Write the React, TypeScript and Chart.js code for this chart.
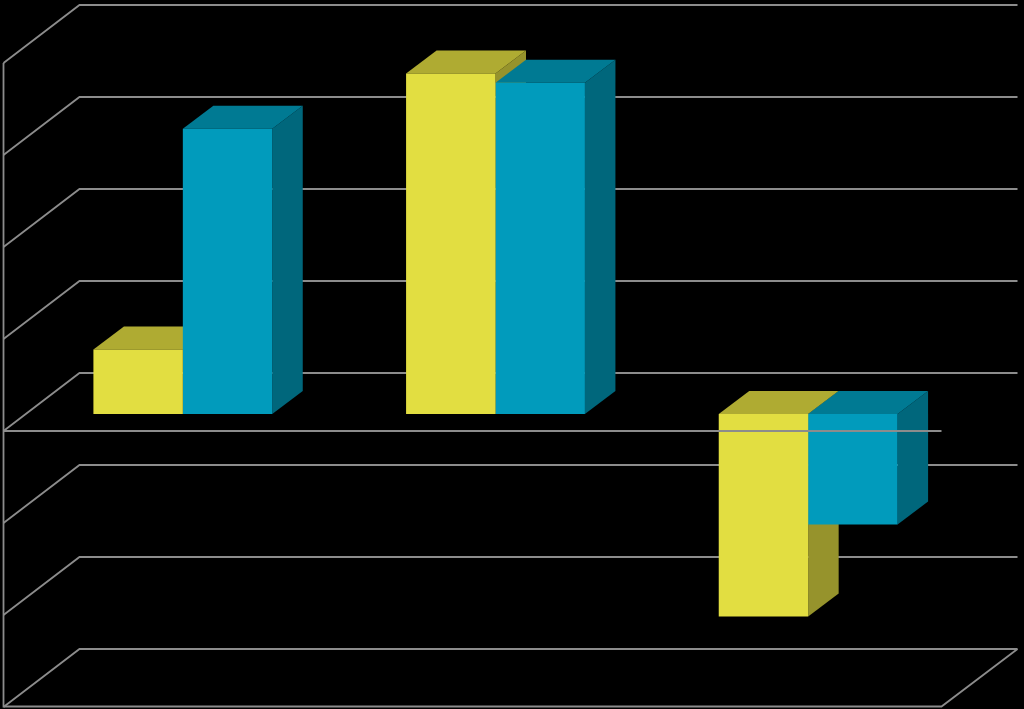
import React, { useEffect, useRef } from "react";
import { Chart, registerables } from "chart.js";

Chart.register(...registerables);

const categories = ["Category 1", "Category 2", "Category 3"];
const seriesYellow = [7, 37, -22];
const seriesBlue = [31, 36, -12];
const axisMin = -30;
const axisMax = 40;
const axisStep = 10;

const GRID = "#8c8c8c";
const GRID_WIDTH = 1.8;
const FRONT_DX = -23;
const FRONT_DY = 17;
const BACK_DX = 53;
const BACK_DY = -41;
const BAR_DX = 30.5;
const BAR_DY = -23;

const faces = [
  { front: "#E2DE41", top: "#AFAB32", side: "#96932C" },
  { front: "#019BBC", top: "#007A93", side: "#00677C" },
];

function poly(ctx: CanvasRenderingContext2D, pts: number[][], fill: string) {
  ctx.fillStyle = fill;
  ctx.beginPath();
  pts.forEach(([x, y], i) => (i ? ctx.lineTo(x, y) : ctx.moveTo(x, y)));
  ctx.closePath();
  ctx.fill();
}

function seg(ctx: CanvasRenderingContext2D, pts: number[][]) {
  ctx.beginPath();
  pts.forEach(([x, y], i) => (i ? ctx.lineTo(x, y) : ctx.moveTo(x, y)));
  ctx.stroke();
}

const plugin3d = {
  id: "box3d",
  beforeDatasetsDraw(chart: any) {
    const { ctx, chartArea, scales } = chart;
    const y = scales.y;
    const fl = chartArea.left + FRONT_DX;
    const bl = chartArea.left + BACK_DX;
    const br = chartArea.right + BACK_DX;
    const fr = chartArea.right + FRONT_DX;
    ctx.save();
    ctx.strokeStyle = GRID;
    ctx.lineWidth = GRID_WIDTH;
    y.ticks.forEach((t: any) => {
      const p = y.getPixelForValue(t.value);
      seg(ctx, [
        [fl, p + FRONT_DY],
        [bl, p + BACK_DY],
        [br, p + BACK_DY],
      ]);
    });
    const pMin = y.getPixelForValue(axisMin);
    const pMax = y.getPixelForValue(axisMax);
    seg(ctx, [
      [fl, pMax + FRONT_DY],
      [fl, pMin + FRONT_DY - 0.5],
      [fr, pMin + FRONT_DY - 0.5],
      [br, pMin + BACK_DY],
    ]);
    // extruded sides and tops of the bars, behind the front faces
    for (let c = 0; c < categories.length; c++) {
      chart.data.datasets.forEach((_: any, d: number) => {
        const bar = chart.getDatasetMeta(d).data[c];
        const l = bar.x - bar.width / 2;
        const r = bar.x + bar.width / 2;
        const t = Math.min(bar.y, bar.base);
        const b = Math.max(bar.y, bar.base);
        poly(ctx, [[r, t], [r + BAR_DX, t + BAR_DY], [r + BAR_DX, b + BAR_DY], [r, b]], faces[d].side);
        poly(ctx, [[l, t], [l + BAR_DX, t + BAR_DY], [r + BAR_DX, t + BAR_DY], [r, t]], faces[d].top);
      });
    }
    ctx.restore();
  },
  afterDatasetsDraw(chart: any) {
    const { ctx, chartArea, scales } = chart;
    const p = scales.y.getPixelForValue(0) + FRONT_DY;
    ctx.save();
    ctx.strokeStyle = GRID;
    ctx.lineWidth = GRID_WIDTH;
    seg(ctx, [
      [chartArea.left + FRONT_DX, p],
      [chartArea.right + FRONT_DX, p],
    ]);
    ctx.restore();
  },
};

export default function App() {
  const ref = useRef<HTMLCanvasElement>(null);
  useEffect(() => {
    document.body.style.margin = "0";
    document.body.style.background = "#000";
    const chart = new Chart(ref.current as HTMLCanvasElement, {
      type: "bar",
      data: {
        labels: categories,
        datasets: [
          { label: "Series 1", data: seriesYellow, backgroundColor: faces[0].front, borderWidth: 0 },
          { label: "Series 2", data: seriesBlue, backgroundColor: faces[1].front, borderWidth: 0 },
        ],
      },
      options: {
        responsive: false,
        animation: false,
        devicePixelRatio: 1,
        layout: { padding: { left: 26.5, right: 59.5, top: 46, bottom: 19 } },
        plugins: { legend: { display: false }, title: { display: false }, tooltip: { enabled: false } },
        datasets: { bar: { categoryPercentage: 0.572, barPercentage: 1 } },
        scales: {
          x: { display: false },
          y: { display: false, min: axisMin, max: axisMax, ticks: { stepSize: axisStep } },
        },
      },
      plugins: [plugin3d],
    } as any);
    return () => chart.destroy();
  }, []);
  return (
    <canvas
      ref={ref}
      width={1024}
      height={709}
      style={{ display: "block", position: "absolute", left: 0, top: 0, background: "#000" }}
    />
  );
}
